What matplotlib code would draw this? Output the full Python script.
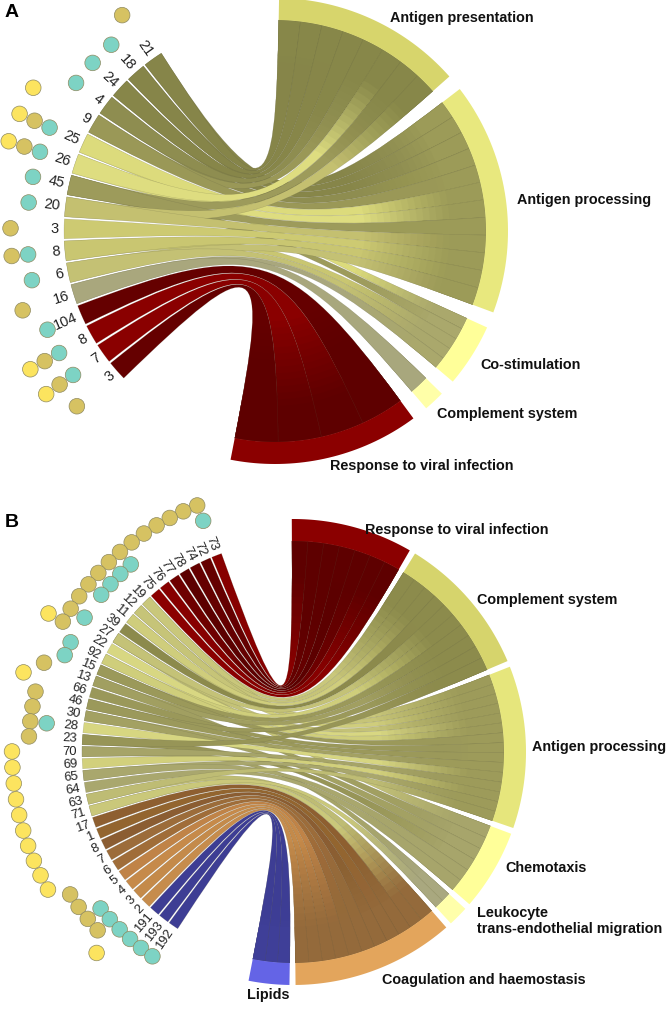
import numpy as np
import matplotlib
matplotlib.use("Agg")
import matplotlib.pyplot as plt
from matplotlib.path import Path
from matplotlib.patches import PathPatch, Polygon, Circle

plt.rcParams['font.family'] = ['Liberation Sans', 'DejaVu Sans']

# ---------------- panel A data ----------------
a_genes = ['21', '18', '24', '4', '9', '25', '26', '45', '20', '3', '8', '6', '16',
           '104', '8', '7', '3']
a_gene_col = ['#868549', '#868549', '#878649', '#8E8D50', '#9A9857', '#DCDB7C',
              '#DEDD80', '#9D9B5B', '#C4C070', '#CDCA72', '#C9C671', '#C4C174',
              '#A9A77D', '#650000', '#8A0000', '#8A0000', '#650000']
a_terms = ['Antigen presentation', 'Antigen processing', 'Co-stimulation',
           'Complement system', 'Response to viral infection']
a_term_size = [9, 11, 3, 1, 9]
a_band_col = ['#D7D56C', '#E8E87E', '#FFFF99', '#FFFFA8', '#8B0000']
a_chord_col = ['#878749', '#9C9B58', '#AAA86C', '#A8A77D', '#5E0000']
a_link_gene = [0, 0, 1, 1, 2, 2, 3, 3, 4, 4, 5, 5, 6, 6, 7, 7, 7, 8, 8, 9, 10, 10,
               11, 11, 12, 12, 13, 14, 15, 16]
a_link_term = [1, 0, 1, 0, 1, 0, 1, 0, 0, 1, 2, 1, 1, 0, 0, 2, 1, 0, 1, 1, 2, 1,
               1, 2, 2, 3, 4, 4, 4, 4]
a_teal = [0, 1, 1, 1, 0, 1, 1, 1, 1, 0, 1, 1, 0, 1, 1, 1, 0]
a_gold = [1, 0, 0, 0, 0, 1, 1, 0, 0, 1, 1, 0, 1, 0, 1, 1, 1]
a_yell = [0, 0, 0, 0, 1, 1, 1, 0, 0, 0, 0, 0, 0, 0, 1, 1, 0]

# ---------------- panel B data ----------------
b_genes = ['73', '72', '74', '78', '77', '76', '75', '19', '12', '11', '39', '27', '22',
           '92', '15', '13', '66', '46', '30', '28', '23', '70', '69', '65', '64', '63',
           '71', '17', '1', '8', '7', '6', '5', '4', '3', '2', '191', '193', '192']
b_gene_col = ['#870000', '#650000', '#650000', '#5C0000', '#6E0000', '#870000', '#8B0000',
              '#C9C77B', '#C6C478', '#CFCD7C', '#8C8A4C', '#C4C277', '#D8D782',
              '#CFCE7B', '#9B995A', '#A19F61', '#9A985A', '#9B995B', '#A3A163',
              '#D7D681', '#979557', '#A6A468', '#D2D07C', '#A9A76D', '#A9A76E',
              '#BEBC74', '#CAC87A', '#8E5F30', '#93652F', '#8B5D32', '#9C6C3A',
              '#A06D39', '#C08347', '#C68A4A', '#C48A4A', '#C68C4C',
              '#3D3D94', '#3D3D94', '#3D3D94']
b_terms = ['Response to viral infection', 'Complement system', 'Antigen processing',
           'Chemotaxis', 'Leukocyte\ntrans-endothelial migration',
           'Coagulation and haemostasis', 'Lipids']
b_term_size = [6, 7, 8, 4, 1, 8, 2]
b_band_col = ['#8B0000', '#D6D46C', '#E6E67C', '#FFFF99', '#FFFFAA', '#E3A55C', '#6464E6']
b_chord_col = ['#5E0000', '#8C8B4C', '#9D9B5A', '#A7A56B', '#A9A87F', '#946A3B', '#3F3F98']
b_link_gene = [0, 1, 2, 3, 4, 5, 6, 7, 7, 8, 8, 9, 9, 10, 11, 11, 11, 12, 13, 13,
               14, 14, 15, 15, 16, 17, 17, 18, 18, 19, 20, 20, 21, 21, 22, 23, 23, 24,
               25, 25, 26, 26, 27, 28, 29, 30, 31, 32, 33, 34, 35, 36, 37, 38]
b_link_term = [0, 0, 0, 0, 0, 0, 0, 1, 2, 1, 2, 2, 1, 1, 3, 2, 1, 2, 1, 2,
               1, 2, 1, 3, 2, 1, 2, 2, 3, 2, 3, 1, 4, 2, 2, 2, 3, 3,
               5, 2, 5, 4, 5, 5, 5, 5, 5, 5, 5, 5, 5, 6, 6, 6]
b_teal = [1 if i in (0, 6, 7, 8, 9, 11, 13, 14, 19, 33, 34, 35, 36, 37, 38) else 0
          for i in range(39)]
b_gold = [1 if (i <= 12 or i in (15, 17, 18, 19, 20, 31, 32, 33, 34)) else 0
          for i in range(39)]
b_yell = [1 if (i in (12, 16, 35) or 21 <= i <= 30) else 0 for i in range(39)]

dot_cols = ['#7DD3C4', '#D6C262', '#FCE45F']


def pt(c, r, th):
    t = np.radians(th)
    return np.array([c[0] + r * np.cos(t), c[1] - r * np.sin(t)])


def arc(c, r, a0, a1, n=40):
    t = np.radians(np.linspace(a0, a1, n))
    return np.column_stack([c[0] + r * np.cos(t), c[1] - r * np.sin(t)])


def ribbon_path(c, r, g0, g1, t0, t1, s):
    cc = np.array(c, float)
    a = arc(c, r, g0, g1)
    b = arc(c, r, t0, t1)
    verts = list(a)
    codes = [Path.MOVETO] + [Path.LINETO] * (len(a) - 1)
    verts += [cc + s * (a[-1] - cc), cc + s * (b[0] - cc), b[0]]
    codes += [Path.CURVE4] * 3
    verts += list(b[1:])
    codes += [Path.LINETO] * (len(b) - 1)
    verts += [cc + s * (b[-1] - cc), cc + s * (a[0] - cc), a[0]]
    codes += [Path.CURVE4] * 3
    verts.append(a[0])
    codes.append(Path.CLOSEPOLY)
    return Path(verts, codes)


def band(ax, c, r0, r1, a0, a1, color):
    outer = arc(c, r1, a0, a1)
    inner = arc(c, r0, a1, a0)
    ax.add_patch(Polygon(np.vstack([outer, inner]), closed=True,
                         facecolor=color, edgecolor='none'))


def chord_panel(ax, c, genes, gene_col, g_range, g_gap, terms, sizes, t_range, t_gap,
                band_cols, chord_cols, l_gene, l_term, dots, label_pos, s, gfs):
    r = 211
    r_band = 233
    n = len(genes)
    step = (g_range[1] - g_range[0]) / n
    g_lo = [g_range[0] + i * step + g_gap / 2 for i in range(n)]
    g_hi = [g_range[0] + (i + 1) * step - g_gap / 2 for i in range(n)]
    g_mid = [(lo + hi) / 2 for lo, hi in zip(g_lo, g_hi)]

    unit = (t_range[0] - t_range[1] - t_gap * (len(terms) - 1)) / sum(sizes)
    t_hi, t_lo = [], []
    h = t_range[0]
    for sz in sizes:
        t_hi.append(h)
        t_lo.append(h - sz * unit)
        h = h - sz * unit - t_gap

    # slot of each link at the term end, top genes nearest the gap
    slots = {}
    for k in range(len(terms)):
        idx = sorted([j for j in range(len(l_gene)) if l_term[j] == k],
                     key=lambda j: l_gene[j])
        w = (t_hi[k] - t_lo[k]) / len(idx)
        for m, j in enumerate(idx):
            slots[j] = (t_hi[k] - (m + 1) * w, t_hi[k] - m * w)

    # clip regions for a gene-colour -> term-colour fade along the ribbons
    radii = np.linspace(90, 175, 14)
    clips = [Polygon(np.vstack([arc(c, 330, t_range[1] - 3, t_range[0] + 3),
                                arc(c, rad, t_range[0] + 3, t_range[1] - 3)]),
                     closed=True, transform=ax.transData) for rad in radii]
    K = len(radii)

    for j in range(len(l_gene)):
        g = l_gene[j]
        a0, a1 = slots[j]
        p = ribbon_path(c, r, g_lo[g], g_hi[g], a0 + 360, a1 + 360, s)
        ax.add_patch(PathPatch(p, facecolor=gene_col[g], edgecolor='none'))
        if gene_col[g] != chord_cols[l_term[j]]:
            for m in range(K):
                pp = PathPatch(p, facecolor=chord_cols[l_term[j]], edgecolor='none',
                               alpha=1.0 / (K - m))
                ax.add_patch(pp)
                pp.set_clip_path(clips[m])
        ax.add_patch(PathPatch(p, facecolor='none',
                               edgecolor=(0.35, 0.35, 0.25, 0.3), lw=0.3))

    for k in range(len(terms)):
        band(ax, c, r, r_band, t_lo[k], t_hi[k], band_cols[k])
        x, y = label_pos[k]
        ax.text(x, y, terms[k], ha='left', va='center', fontsize=10.4,
                fontweight='bold', color='#111111', linespacing=1.1)

    for i in range(n):
        p = pt(c, 216, g_mid[i])
        ax.text(p[0], p[1], genes[i], ha='right', va='center', fontsize=gfs,
                rotation=g_mid[i] - 180, rotation_mode='anchor', color='#222222')
        for ring, (flags, col) in zip([248, 264.5, 281], zip(dots, dot_cols)):
            if flags[i]:
                q = pt(c, ring, g_mid[i])
                ax.add_patch(Circle(q, 7.8, facecolor=col, edgecolor='#8f8a60', lw=0.5))


fig = plt.figure(figsize=(6.66, 10.10), dpi=100)
ax = fig.add_axes([0, 0, 1, 1])
ax.set_xlim(0, 666)
ax.set_ylim(1010, 0)
ax.axis('off')

chord_panel(ax, (275, 231), a_genes, a_gene_col, (122.3, 224.5), 0.6, a_terms,
            a_term_size, (89, -101), 4.0, a_band_col, a_chord_col, a_link_gene,
            a_link_term, [a_teal, a_gold, a_yell],
            [(390, 18), (517, 200), (480, 365), (437, 414), (330, 466)], 0.1, 10.5)

chord_panel(ax, (293, 752), b_genes, b_gene_col, (109.6, 237.1), 0.45, b_terms,
            b_term_size, (90.3, -101), 1.5, b_band_col, b_chord_col, b_link_gene,
            b_link_term, [b_teal, b_gold, b_yell],
            [(365, 530), (477, 600), (532, 747), (505, 868), (477, 921), (382, 980),
             (247, 995)], 0.1, 9.4)

ax.text(5, 4, 'A', ha='left', va='top', fontsize=14, fontweight='bold')
ax.text(5, 514, 'B', ha='left', va='top', fontsize=14, fontweight='bold')

fig.savefig('out.png', dpi=100)
